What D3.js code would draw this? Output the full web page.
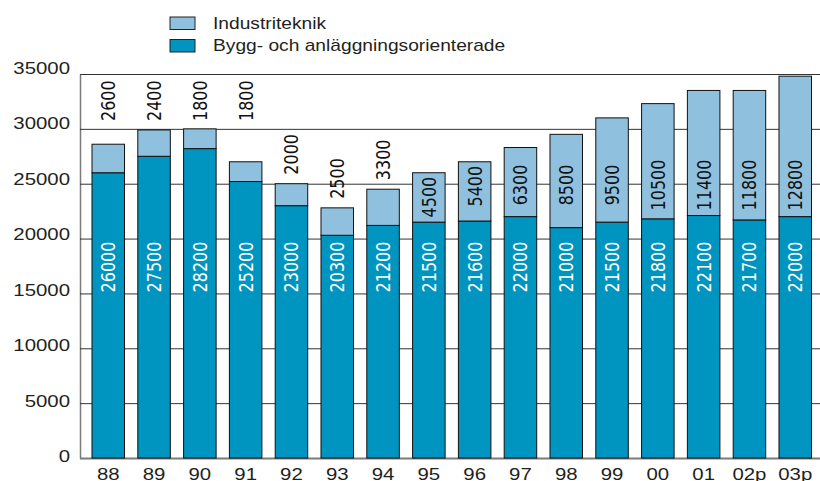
<!DOCTYPE html>
<meta charset="utf-8">
<style>
    body { margin: 0; background: #ffffff; }
    svg text { font-family: "Liberation Sans", Arial, Helvetica, sans-serif; fill: #231f20; }
    svg text.val { font-family: "DejaVu Sans", Verdana, sans-serif; font-size: 16px; }
</style>

<script src="https://d3js.org/d3.v7.min.js"></script>

<div id="chart"></div>

<script>
    // data
    var years = ["88", "89", "90", "91", "92", "93", "94", "95", "96", "97", "98", "99", "00", "01", "02p", "03p"]
    var bygg = [26000, 27500, 28200, 25200, 23000, 20300, 21200, 21500, 21600, 22000, 21000, 21500, 21800, 22100, 21700, 22000]
    var industri = [2600, 2400, 1800, 1800, 2000, 2500, 3300, 4500, 5400, 6300, 8500, 9500, 10500, 11400, 11800, 12800]
    var yTicks = [0, 5000, 10000, 15000, 20000, 25000, 30000, 35000]
    var seriesNames = ["Industriteknik", "Bygg- och anläggningsorienterade"]

    var width = 820, height = 481
    var stretch = 1.2   // the original is a bit wide, text looks stretched sideways
    var colLight = "#8fc1de", colDark = "#0095c0"

    var svg = d3.select("#chart")
        .append("svg")
        .attr("width", width)
        .attr("height", height)

    var x = d3.scaleBand()
        .domain(years)
        .range([92, 811.5])
        .paddingInner(0.29)
        .paddingOuter(0)

    var y = d3.scaleLinear()
        .domain([0, 35000])
        .range([458, 74])

    // tick labels sit a little off the grid lines in the original
    var yLab = d3.scaleLinear()
        .domain([0, 35000])
        .range([462, 74])

    // grid lines + left axis line
    var grid = svg.append("g")
        .attr("transform", "translate(80,0)")
        .call(d3.axisLeft(y).tickValues(yTicks).tickSize(-740).tickSizeOuter(0).tickFormat(""))
    grid.select(".domain").attr("stroke", "#7a7a7a").attr("stroke-width", 1.5)
    grid.selectAll(".tick line")
        .attr("stroke", function (d) { return d === 0 ? "#7a7a7a" : "#333" })
        .attr("stroke-width", function (d) { return d === 0 ? 2 : 1 })

    svg.append("g")
        .selectAll("text")
        .data(yTicks)
        .enter()
        .append("text")
        .attr("transform", function (d) { return "translate(70," + yLab(d) + ") scale(" + stretch + ",1)" })
        .attr("text-anchor", "end")
        .attr("font-size", "17px")
        .text(function (d) { return d })

    // stacked bars
    var rows = years.map(function (yr, i) {
        return { year: yr, bygg: bygg[i], industri: industri[i] }
    })
    var stacked = d3.stack().keys(["bygg", "industri"])(rows)
    var colors = { bygg: colDark, industri: colLight }

    svg.append("g")
        .selectAll("g")
        .data(stacked)
        .enter()
        .append("g")
        .attr("fill", function (d) { return colors[d.key] })
        .selectAll("rect")
        .data(function (d) { return d })
        .enter()
        .append("rect")
        .attr("x", function (d) { return x(d.data.year) })
        .attr("y", function (d) { return y(d[1]) })
        .attr("width", x.bandwidth())
        .attr("height", function (d) { return y(d[0]) - y(d[1]) })
        .attr("stroke", "#111")
        .attr("stroke-width", 1)

    var cx = function (yr) { return x(yr) + x.bandwidth() / 2 }

    // white labels in the dark part
    svg.append("g")
        .selectAll("text")
        .data(rows)
        .enter()
        .append("text")
        .attr("class", "val")
        .attr("transform", function (d) { return "translate(" + cx(d.year) + ",267) scale(" + stretch + ",1) rotate(-90)" })
        .attr("text-anchor", "middle")
        .attr("dy", "0.36em")
        .style("fill", "#ffffff")
        .text(function (d) { return d.bygg })

    // labels for the light part: above the short ones, inside the tall ones
    var topLabels = svg.append("g")
        .selectAll("text")
        .data(rows)
        .enter()
        .append("text")
        .attr("class", "val")
        .attr("text-anchor", function (d, i) { return i < 7 ? "start" : "middle" })
        .attr("dy", "0.36em")
        .style("fill", "#111")
        .text(function (d) { return d.industri })

    topLabels.attr("transform", function (d, i) {
        var top = y(d.bygg + d.industri)
        var py
        if (i < 4) {
            py = 121             // first four share one row above the 30000 line
        } else if (i < 7) {
            py = top - 9
        } else {
            var len = this.getComputedTextLength()
            py = Math.max(185, top + len / 2 + 4)
        }
        return "translate(" + cx(d.year) + "," + py + ") scale(" + stretch + ",1) rotate(-90)"
    })

    // year labels
    svg.append("g")
        .selectAll("text")
        .data(years)
        .enter()
        .append("text")
        .attr("transform", function (d) { return "translate(" + cx(d) + ",480) scale(" + stretch + ",1)" })
        .attr("text-anchor", "middle")
        .attr("font-size", "17px")
        .text(function (d) { return d })

    // legend
    var legend = svg.append("g")
        .selectAll("g")
        .data(seriesNames)
        .enter()
        .append("g")
        .attr("transform", function (d, i) { return "translate(170," + (17 + i * 22.5) + ")" })

    legend.append("rect")
        .attr("width", 25)
        .attr("height", 12.5)
        .attr("fill", function (d, i) { return i === 0 ? colLight : colDark })
        .attr("stroke", "#222")
        .attr("stroke-width", 1)

    legend.append("text")
        .attr("transform", "translate(43,11.5) scale(" + stretch + ",1)")
        .attr("font-size", "16px")
        .text(function (d) { return d })
</script>
